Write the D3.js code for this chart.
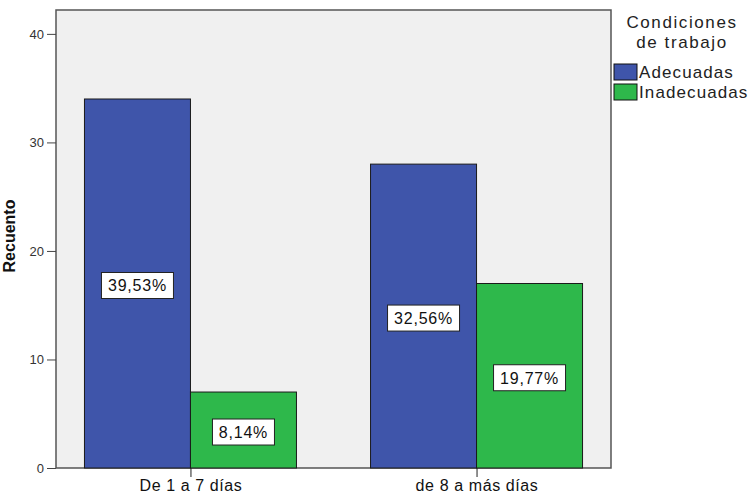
<!DOCTYPE html>
<html>
<head>
<meta charset="utf-8">
<script src="https://cdn.jsdelivr.net/npm/d3@7"></script>
<style>
  body { margin: 0; background: #fff; }
  svg { display: block; font-family: Arial, "Liberation Sans", sans-serif; }
</style>
</head>
<body>
<script>
const width = 752;
const height = 493;

const categories = ["De 1 a 7 días", "de 8 a más días"];
const groups = ["Adecuadas", "Inadecuadas"];
const adecuadas = [34, 28];
const inadecuadas = [7, 17];
const percentLabels = [["39,53%", "8,14%"], ["32,56%", "19,77%"]];
const yTicks = [0, 10, 20, 30, 40];
const colors = ["#3f55aa", "#2eb84b"];

const plotLeft = 56, plotRight = 611, plotTop = 10, plotBottom = 468;

const svg = d3.select("body").append("svg")
  .attr("width", width)
  .attr("height", height);

const x = d3.scalePoint()
  .domain(categories)
  .range([plotLeft, plotRight])
  .padding(0.47);

const sub = d3.scaleBand()
  .domain(groups)
  .range([-106, 106]);

const y = d3.scaleLinear()
  .domain([0, 42.2])
  .range([plotBottom, plotTop]);

// plot background
svg.append("rect")
  .attr("x", plotLeft)
  .attr("y", plotTop)
  .attr("width", plotRight - plotLeft)
  .attr("height", plotBottom - plotTop)
  .attr("fill", "#f0f0f0")
  .attr("stroke", "#555")
  .attr("stroke-width", 1.5);

const rows = categories.map(function (c, i) {
  return [
    { cat: c, grp: groups[0], value: adecuadas[i], label: percentLabels[i][0], color: colors[0] },
    { cat: c, grp: groups[1], value: inadecuadas[i], label: percentLabels[i][1], color: colors[1] }
  ];
}).flat();

svg.selectAll("rect.bar")
  .data(rows)
  .enter()
  .append("rect")
    .attr("class", "bar")
    .attr("x", function (d) { return x(d.cat) + sub(d.grp); })
    .attr("y", function (d) { return y(d.value); })
    .attr("width", sub.bandwidth())
    .attr("height", function (d) { return y(0) - y(d.value); })
    .attr("fill", function (d) { return d.color; })
    .attr("stroke", "#1a1a1a")
    .attr("stroke-width", 1);

// percentage labels in white boxes
const lab = svg.selectAll("g.lab")
  .data(rows)
  .enter()
  .append("g")
    .attr("class", "lab")
    .attr("transform", function (d) {
      return "translate(" + (x(d.cat) + sub(d.grp) + sub.bandwidth() / 2) + "," + (y(d.value / 2) + 2) + ")";
    });

lab.append("rect")
  .attr("x", function (d) { return d.label.length > 5 ? -36 : -31; })
  .attr("y", -13)
  .attr("width", function (d) { return d.label.length > 5 ? 72 : 62; })
  .attr("height", 26)
  .attr("fill", "#fff")
  .attr("stroke", "#222")
  .attr("stroke-width", 1);

lab.append("text")
  .text(function (d) { return d.label; })
  .attr("text-anchor", "middle")
  .attr("y", 6)
  .attr("font-size", 16)
  .attr("letter-spacing", 0.8)
  .attr("fill", "#111");

// axes
const yAxis = d3.axisLeft(y)
  .tickValues(yTicks)
  .tickSize(9)
  .tickPadding(3);

const gy = svg.append("g")
  .attr("transform", "translate(" + plotLeft + ",0)")
  .call(yAxis);
gy.select(".domain").remove();
gy.selectAll("line").attr("stroke", "#444");
gy.selectAll("text")
  .attr("font-size", 13)
  .attr("fill", "#333")
  .attr("font-family", "Arial, 'Liberation Sans', sans-serif");

const xAxis = d3.axisBottom(x)
  .tickSize(9)
  .tickPadding(3);

const gx = svg.append("g")
  .attr("transform", "translate(0," + plotBottom + ")")
  .call(xAxis);
gx.select(".domain").remove();
gx.selectAll("line").attr("stroke", "#222");
gx.selectAll("text")
  .attr("font-size", 16)
  .attr("letter-spacing", 0.6)
  .attr("fill", "#111")
  .attr("font-family", "Arial, 'Liberation Sans', sans-serif");

svg.append("text")
  .text("Recuento")
  .attr("transform", "translate(15,236) rotate(-90)")
  .attr("text-anchor", "middle")
  .attr("font-size", 16)
  .attr("font-weight", "bold")
  .attr("fill", "#111");

// legend
const legend = svg.append("g");
legend.append("text")
  .attr("x", 682)
  .attr("y", 28)
  .attr("text-anchor", "middle")
  .attr("font-size", 17)
  .attr("letter-spacing", 1.6)
  .attr("fill", "#222")
  .text("Condiciones");
legend.append("text")
  .attr("x", 682)
  .attr("y", 48)
  .attr("text-anchor", "middle")
  .attr("font-size", 17)
  .attr("letter-spacing", 1.6)
  .attr("fill", "#222")
  .text("de trabajo");

const li = legend.selectAll("g.item")
  .data(groups)
  .enter()
  .append("g")
    .attr("class", "item")
    .attr("transform", function (d, i) { return "translate(614," + (64 + i * 20) + ")"; });

li.append("rect")
  .attr("width", 23)
  .attr("height", 16)
  .attr("fill", function (d, i) { return colors[i]; })
  .attr("stroke", "#111");

li.append("text")
  .attr("x", 25)
  .attr("y", 14)
  .attr("font-size", 17)
  .attr("letter-spacing", 1.1)
  .attr("fill", "#222")
  .text(function (d) { return d; });
</script>
</body>
</html>
